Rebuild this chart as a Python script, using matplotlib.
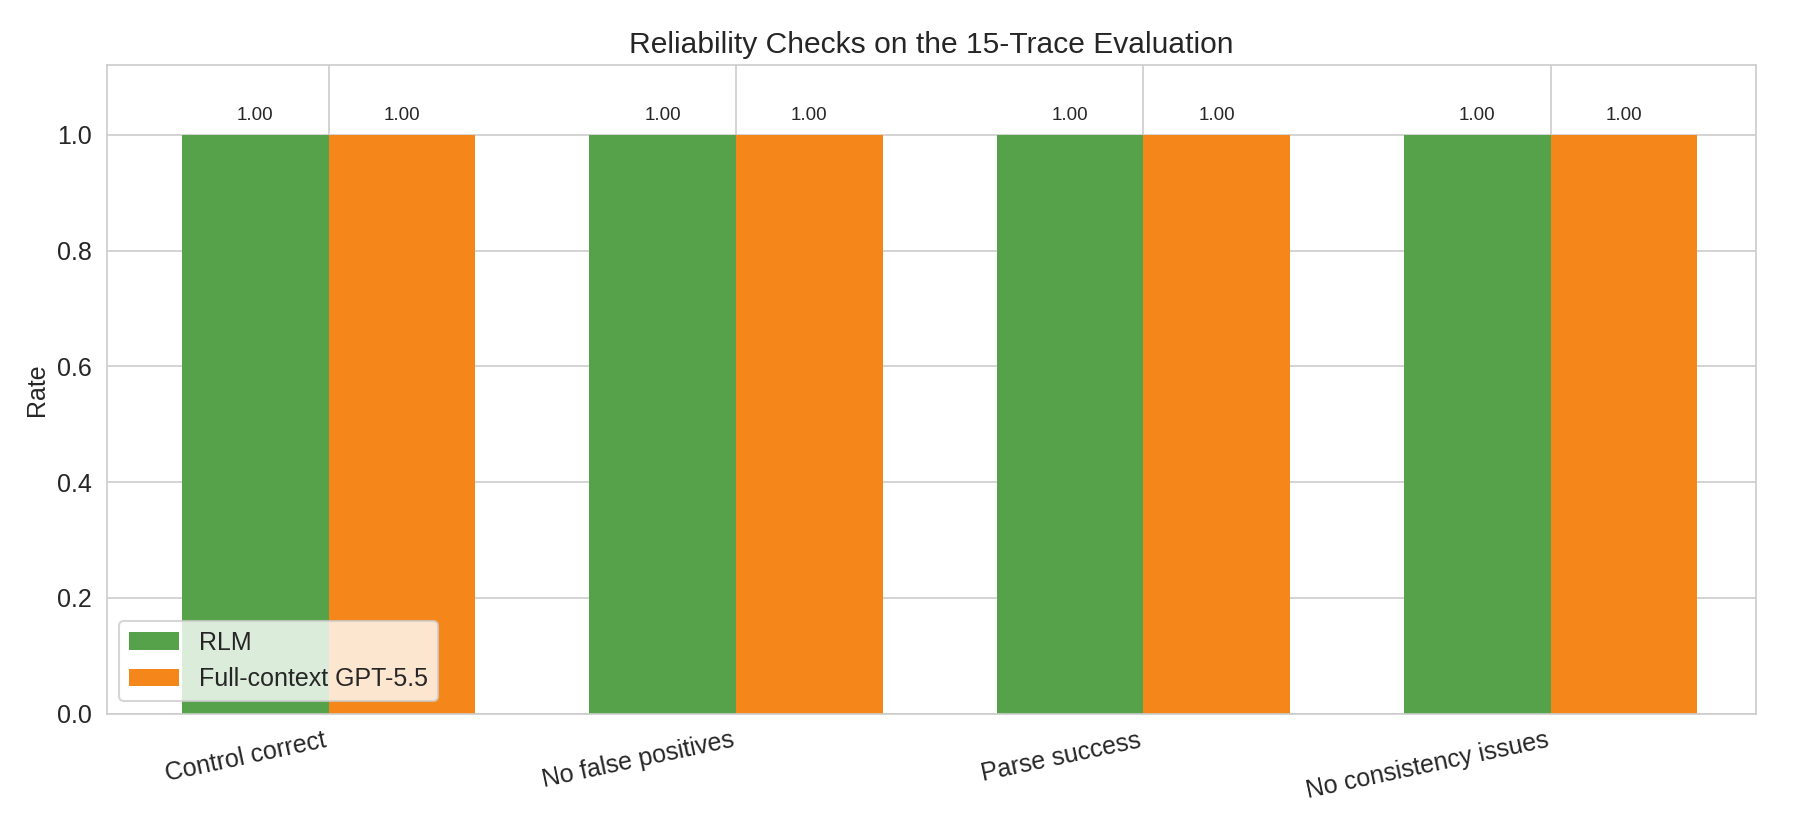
import numpy as np
import matplotlib.pyplot as plt
import seaborn as sns

sns.set_style("whitegrid")
plt.rcParams['font.family'] = ['Liberation Sans', 'DejaVu Sans']

# data
checks = ["Control correct", "No false positives", "Parse success", "No consistency issues"]
rlm = [1.00, 1.00, 1.00, 1.00]
full_ctx = [1.00, 1.00, 1.00, 1.00]

x = np.arange(len(checks))
w = 0.36

fig, ax = plt.subplots(figsize=(12, 5.507), dpi=150)
b1 = ax.bar(x - w / 2, rlm, w, color="#55a24a", linewidth=0, label="RLM")
b2 = ax.bar(x + w / 2, full_ctx, w, color="#f5861a", linewidth=0, label="Full-context GPT-5.5")

for bars in (b1, b2):
    for b in bars:
        ax.annotate(f"{b.get_height():.2f}", (b.get_x() + b.get_width() / 2, b.get_height()),
                    xytext=(0, 5), textcoords="offset points", ha="center", va="bottom", fontsize=9)

ax.set_xticks(x)
ax.set_xticklabels(checks, rotation=12, ha="right", fontsize=12)
ax.tick_params(axis="y", labelsize=12)
ax.set_ylabel("Rate", fontsize=12)
ax.set_ylim(0, 1.12)
ax.set_xlim(-0.545, 3.505)
ax.set_title("Reliability Checks on the 15-Trace Evaluation", fontsize=14.4)
ax.legend(loc="lower left", fontsize=12, frameon=True)

fig.subplots_adjust(left=0.0593, right=0.9758, top=0.9208, bottom=0.1361)
fig.savefig("out.png", dpi=150)
